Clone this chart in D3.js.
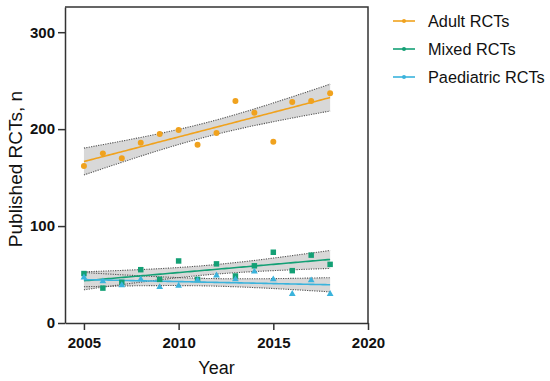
<!DOCTYPE html>
<meta charset="utf-8">
<style>
    body { margin: 0; background: #fff; }
    svg { font-family: "Liberation Sans", Arial, sans-serif; }
    .tick text { font-weight: bold; font-size: 15px; fill: #111; }
    .domain, .tick line { stroke: #333; stroke-width: 1.5; }
    .band { fill: #d8d8d8; stroke: none; }
    .edge { fill: none; stroke: #555; stroke-width: 1.1; stroke-dasharray: 1.2,1.2; }
</style>
<body>
<div id="chart"></div>
<script src="https://d3js.org/d3.v7.min.js"></script>
<script>

    // data
    var years = [2005, 2006, 2007, 2008, 2009, 2010, 2011, 2012, 2013, 2014, 2015, 2016, 2017, 2018];
    var adult = [162, 175, 170, 186, 195, 199, 184, 196, 229, 217, 187, 228, 229, 237];
    var mixed = [51, 36, 42, 55, 45, 64, 45, 61, 48.5, 59, 73, 54, 70, 60.5];
    var paediatric = [47, 43, 39, 45, 37, 38.5, 44, 49, 45, 53, 45, 30, 44, 30];

    var seriesNames = ["Adult RCTs", "Mixed RCTs", "Paediatric RCTs"];
    var seriesColors = ["#f0a21e", "#13a075", "#3ab3dc"];
    var xTicks = [2005, 2010, 2015, 2020];
    var yTicks = [0, 100, 200, 300];

    var T_CRIT = 2.179; // t(0.975, df = 12)

    var svg_dx = 550, svg_dy = 381;
    var margin = { top: 7, left: 65, right: 182, bottom: 58 };

    var x = d3.scaleLinear().domain([2004, 2020]).range([margin.left, svg_dx - margin.right]);
    var y = d3.scaleLinear().domain([0, 326]).range([svg_dy - margin.bottom, margin.top]);

    var svg = d3.select("#chart").append("svg")
        .attr("width", svg_dx)
        .attr("height", svg_dy);

    var series = [adult, mixed, paediatric].map(function (vals, i) {
        return { name: seriesNames[i], color: seriesColors[i], fit: fitLine(years, vals),
            pts: years.map(function (yr, j) { return { x: yr, y: vals[j] }; }) };
    });

    // least squares fit with 95% confidence band
    function fitLine(xs, ys) {
        var n = xs.length, mx = d3.mean(xs), my = d3.mean(ys);
        var sxx = d3.sum(xs, function (v) { return (v - mx) * (v - mx); });
        var sxy = d3.sum(xs, function (v, i) { return (v - mx) * (ys[i] - my); });
        var b = sxy / sxx, a = my - b * mx;
        var sse = d3.sum(xs, function (v, i) { var r = ys[i] - (a + b * v); return r * r; });
        var s = Math.sqrt(sse / (n - 2));
        var grid = d3.range(0, 101).map(function (k) { return xs[0] + (xs[n - 1] - xs[0]) * k / 100; });
        return grid.map(function (gx) {
            var yh = a + b * gx;
            var h = T_CRIT * s * Math.sqrt(1 / n + (gx - mx) * (gx - mx) / sxx);
            return { x: gx, y: yh, lo: yh - h, hi: yh + h };
        });
    }

    var area = d3.area()
        .x(function (d) { return x(d.x); })
        .y0(function (d) { return y(d.lo); })
        .y1(function (d) { return y(d.hi); });

    var lineHi = d3.line().x(function (d) { return x(d.x); }).y(function (d) { return y(d.hi); });
    var lineLo = d3.line().x(function (d) { return x(d.x); }).y(function (d) { return y(d.lo); });
    var lineMid = d3.line().x(function (d) { return x(d.x); }).y(function (d) { return y(d.y); });

    svg.append("g").selectAll("path")
        .data(series).enter().append("path")
        .attr("class", "band")
        .attr("d", function (d) { return area(d.fit); });

    var edges = svg.append("g");
    series.forEach(function (s) {
        edges.append("path").attr("class", "edge").attr("d", lineHi(s.fit));
        edges.append("path").attr("class", "edge").attr("d", lineLo(s.fit));
    });

    svg.append("g").selectAll("path")
        .data(series).enter().append("path")
        .attr("fill", "none")
        .attr("stroke", function (d) { return d.color; })
        .attr("stroke-width", 1.6)
        .attr("d", function (d) { return lineMid(d.fit); });

    var symbols = [d3.symbolCircle, d3.symbolSquare, d3.symbolTriangle];
    var sizes = [28, 30, 20];

    series.forEach(function (s, i) {
        svg.append("g").selectAll("path")
            .data(s.pts).enter().append("path")
            .attr("transform", function (d) { return "translate(" + x(d.x) + "," + y(d.y) + ")"; })
            .attr("d", d3.symbol().type(symbols[i]).size(sizes[i]))
            .attr("fill", s.color);
    });

    // frame
    var x0 = x.range()[0], x1 = x.range()[1], y0 = y.range()[0], y1 = y.range()[1];
    svg.append("path")
        .attr("d", "M" + x0 + "," + y1 + "H" + x1 + "V" + y0)
        .attr("fill", "none")
        .attr("stroke", "#333")
        .attr("stroke-width", 1.5);

    var xAxis = svg.append("g")
        .attr("transform", "translate(0," + y0 + ")")
        .call(d3.axisBottom(x).tickValues(xTicks).tickFormat(d3.format("d")).tickSize(7).tickSizeOuter(0));
    xAxis.selectAll("text").attr("y", 25).attr("dy", 0);

    var yAxis = svg.append("g")
        .attr("transform", "translate(" + x0 + ",0)")
        .call(d3.axisLeft(y).tickValues(yTicks).tickSize(7).tickSizeOuter(0));

    svg.append("text")
        .attr("x", (x0 + x1) / 2)
        .attr("y", 374)
        .attr("text-anchor", "middle")
        .style("font-size", "18px")
        .attr("fill", "#111")
        .text("Year");

    svg.append("text")
        .attr("transform", "translate(22," + 169 + ") rotate(-90)")
        .attr("text-anchor", "middle")
        .style("font-size", "19px")
        .attr("fill", "#111")
        .text("Published RCTs, n");

    // legend
    var legend = svg.append("g");
    series.forEach(function (s, i) {
        var ly = 21 + i * 28;
        legend.append("line")
            .attr("x1", 393).attr("x2", 415).attr("y1", ly).attr("y2", ly)
            .attr("stroke", s.color).attr("stroke-width", 1.6);
        legend.append("circle")
            .attr("cx", 404).attr("cy", ly).attr("r", 2)
            .attr("fill", s.color);
        legend.append("text")
            .attr("x", 428).attr("y", ly)
            .attr("dominant-baseline", "central")
            .style("font-size", "16.3px")
            .attr("fill", "#111")
            .text(s.name);
    });

</script>
</body>
